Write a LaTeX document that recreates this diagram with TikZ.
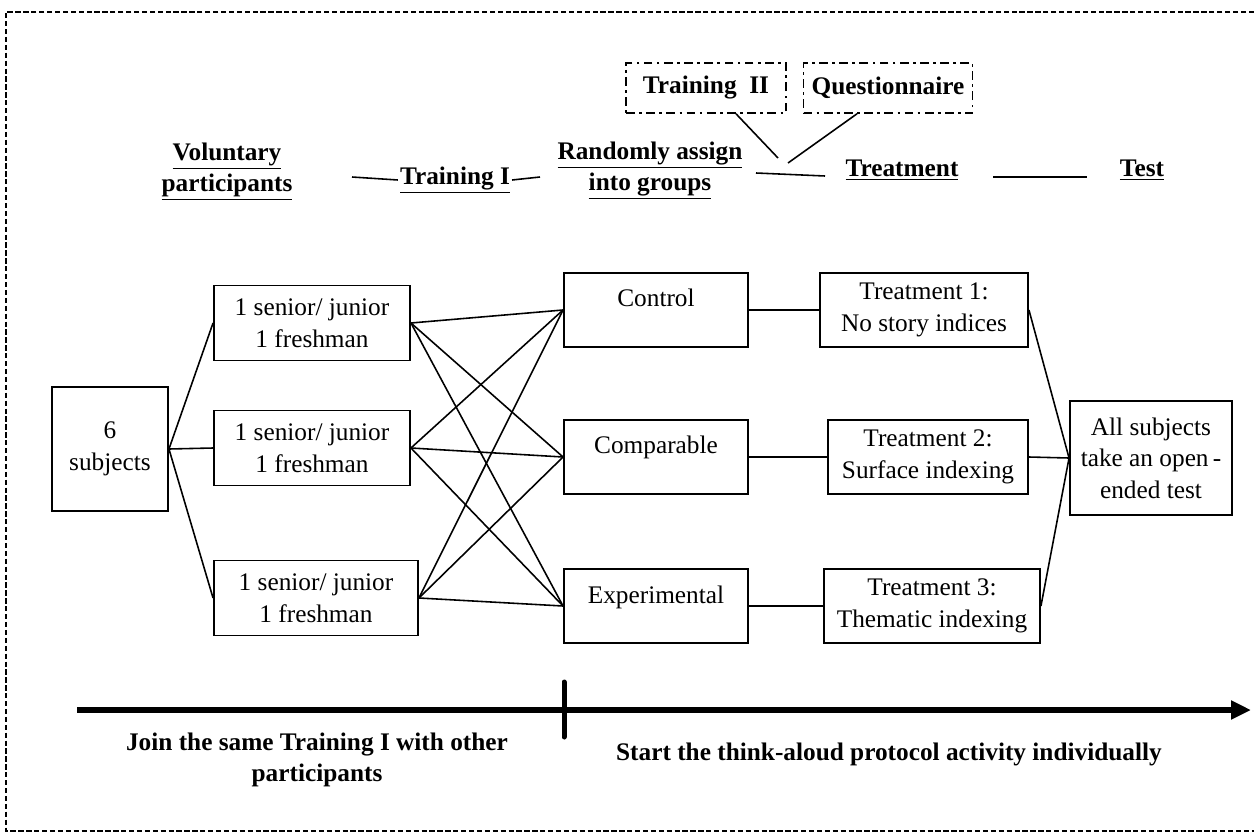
\documentclass[tikz,border=0pt]{standalone}
\usepackage{fontspec}
\setmainfont{Liberation Serif}
\usetikzlibrary{arrows.meta}

\tikzset{
    box/.style={draw, line width=1.1pt, align=center, inner sep=1pt,
        font=\fontsize{14.4}{18}\selectfont},
    head/.style={align=center, inner sep=1pt, font=\fontsize{14.4}{17.6}\selectfont\bfseries},
    dashdot/.style={draw, line width=0.9pt, minimum height=1cm, align=center,
        dash pattern=on 5pt off 2.5pt on 1.5pt off 2.5pt,
        font=\fontsize{14.4}{18}\selectfont\bfseries},
    link/.style={line width=0.9pt},
}

\begin{document}
\begin{tikzpicture}[x=0.02cm, y=-0.02cm]
    \useasboundingbox (0,0) rectangle (1254,835);
    % dashed frame
    \draw[line width=0.6pt, dash pattern=on 3pt off 1.5pt] (1254,12) -- (6,12) -- (6,831) -- (1254,831);

    % top row
    \node[head] (vol) at (227,172) {\underline{Voluntary}\\\underline{participants}};
    \node[head] (tra) at (455,180) {\underline{Training I}};
    \node[head] (rand) at (650,171) {\underline{Randomly assign}\\\underline{into groups}};
    \node[head] (treat) at (902,170) {\underline{Treatment}};
    \node[head] (test) at (1142,170) {\underline{Test}};
    \node[dashdot, minimum width=3.2cm] (trb) at (706,88) {Training\ \ II};
    \node[dashdot, minimum width=3.38cm] (quest) at (888,88) {Questionnaire};

    \coordinate (a1) at (352,177); \coordinate (a2) at (540,177);
    \coordinate (b1) at (756,173); \coordinate (b2) at (825,176);
    \coordinate (c1) at (993,177); \coordinate (c2) at (1087,177);
    \coordinate (m1) at (778,158); \coordinate (m2) at (788,163);
    \draw[link] (a1) -- (tra.west);
    \draw[link] (tra.east) -- (a2);
    \draw[link] (b1) -- (b2);
    \draw[link] (c1) -- (c2);
    \draw[link] (trb.south) ++(30,0) -- (m1);
    \draw[link] (quest.south) ++(-31,0) -- (m2);

    % groups
    \node[box, minimum width=2.32cm, minimum height=2.48cm] (subj) at (110,449) {6\\subjects};
    \node[box, minimum width=3.92cm, minimum height=1.5cm] (g1) at (312,323) {1 senior/ junior\\1 freshman};
    \node[box, minimum width=3.92cm, minimum height=1.5cm] (g2) at (312,448) {1 senior/ junior\\1 freshman};
    \node[box, minimum width=4.08cm, minimum height=1.5cm] (g3) at (316,598) {1 senior/ junior\\1 freshman};

    \node[box, minimum width=3.68cm, minimum height=1.48cm, text depth=0.48cm] (ctrl) at (656,310) {Control};
    \node[box, minimum width=3.68cm, minimum height=1.48cm, text depth=0.5cm] (comp) at (656,457) {Comparable};
    \node[box, minimum width=3.68cm, minimum height=1.48cm, text depth=0.46cm] (expm) at (656,606) {Experimental};

    \node[box, minimum width=4.16cm, minimum height=1.48cm] (t1) at (924,310) {Treatment 1:\\No story indices};
    \node[box, minimum width=4.0cm, minimum height=1.48cm] (t2) at (928,457) {Treatment 2:\\Surface indexing};
    \node[box, minimum width=4.32cm, minimum height=1.48cm] (t3) at (932,606) {Treatment 3:\\Thematic indexing};

    \node[box, minimum width=3.24cm, minimum height=2.28cm] (all) at (1151,458) {All subjects\\take an open\,-\\ended test};

    % connectors
    \foreach \g in {g1,g2,g3} {
        \draw[link] (subj.east) -- (\g.west);
        \foreach \c in {ctrl,comp,expm}
            \draw[link] (\g.east) -- (\c.west);
    }
    \draw[link] (ctrl) -- (t1);
    \draw[link] (comp) -- (t2);
    \draw[link] (expm) -- (t3);
    \foreach \t in {t1,t2,t3}
        \draw[link] (\t.east) -- (all.west);

    % time line
    \coordinate (l0) at (77,710); \coordinate (l1) at (1251,710);
    \coordinate (k0) at (564,682); \coordinate (k1) at (564,737);
    \draw[line width=0.13cm, -{Triangle[length=0.4cm, width=0.36cm]}] (l0) -- (l1);
    \draw[line width=0.1cm, line cap=round] (k0) -- (k1);
    \node[head] (join) at (317,760) {Join the same Training I with other\\participants};
    \node[head] (start) at (889,754) {Start the think-aloud protocol activity individually};
\end{tikzpicture}
\end{document}
